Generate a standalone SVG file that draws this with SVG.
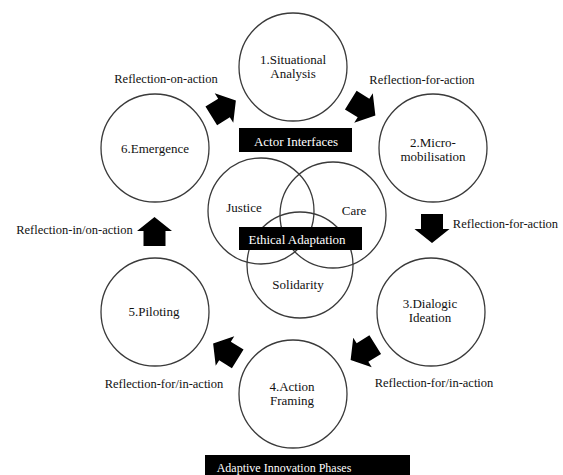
<svg xmlns="http://www.w3.org/2000/svg" xmlns:xlink="http://www.w3.org/1999/xlink" width="563" height="475" viewBox="0 0 563 475">
<style>
.c{fill:#fff;stroke:#3a3a3a;stroke-width:1.3}
.v{fill:none;stroke:#3a3a3a;stroke-width:1.3}
.t{font-family:"Liberation Serif","Times New Roman",serif;font-size:13px;fill:#111;text-anchor:middle}
.r{font-family:"Liberation Serif","Times New Roman",serif;font-size:12.5px;fill:#111;text-anchor:middle}
.w{font-family:"Liberation Serif","Times New Roman",serif;font-size:13px;fill:#fff;text-anchor:middle}
.box{fill:#000}
.a{fill:#000}
</style>
<defs>
<path id="arr" d="M-15,-11 L0,-11 L0,-17.5 L14,0 L0,17.5 L0,11 L-15,11 Z"/>
</defs>
<rect width="563" height="475" fill="#fff"/>
<g id="ethics">
<circle class="v" cx="261" cy="211" r="53"/>
<circle class="v" cx="333" cy="215" r="53"/>
<circle class="v" cx="300" cy="265" r="53"/>
<text class="t" x="244" y="212">Justice</text>
<text class="t" x="354" y="215">Care</text>
<text class="t" x="298" y="289">Solidarity</text>
<rect class="box" x="239" y="227" width="123" height="23"/>
<text class="w" x="297" y="244">Ethical Adaptation</text>
</g>
<g id="n1">
<circle class="c" cx="293" cy="67" r="54"/>
<text class="t" x="293" y="64">1.Situational</text>
<text class="t" x="293" y="78">Analysis</text>
</g>
<g id="actor-interfaces">
<rect class="box" x="239" y="128" width="113" height="24"/>
<text class="w" x="296" y="146">Actor Interfaces</text>
</g>
<g id="n2">
<circle class="c" cx="433" cy="148" r="54"/>
<text class="t" x="433" y="147">2.Micro-</text>
<text class="t" x="433" y="161">mobilisation</text>
</g>
<g id="n3">
<circle class="c" cx="431" cy="312" r="54"/>
<text class="t" x="430" y="308">3.Dialogic</text>
<text class="t" x="430" y="322">Ideation</text>
</g>
<g id="n4">
<circle class="c" cx="293" cy="394" r="54"/>
<text class="t" x="292" y="391">4.Action</text>
<text class="t" x="292" y="405">Framing</text>
</g>
<g id="n5">
<circle class="c" cx="155" cy="312" r="54"/>
<text class="t" x="154" y="316">5.Piloting</text>
</g>
<g id="n6">
<circle class="c" cx="155" cy="148" r="54"/>
<text class="t" x="155" y="153">6.Emergence</text>
</g>
<g id="adaptive-innovation-phases">
<rect class="box" x="205" y="455" width="205" height="20"/>
<text class="w" x="284" y="472" style="font-size:12px">Adaptive Innovation Phases</text>
</g>
<g id="connectors">
<use class="a" xlink:href="#arr" transform="translate(224,108) rotate(-32)"/>
<use class="a" xlink:href="#arr" transform="translate(363.5,108) rotate(32)"/>
<use class="a" xlink:href="#arr" transform="translate(432,229) rotate(90)"/>
<use class="a" xlink:href="#arr" transform="translate(362.5,352.5) rotate(148)"/>
<use class="a" xlink:href="#arr" transform="translate(225,351) rotate(212)"/>
<use class="a" xlink:href="#arr" transform="translate(154.5,231) rotate(-90)"/>
<text class="r" x="166" y="83">Reflection-on-action</text>
<text class="r" x="422" y="84">Reflection-for-action</text>
<text class="r" x="505.5" y="228">Reflection-for-action</text>
<text class="r" x="434" y="387">Reflection-for/in-action</text>
<text class="r" x="164" y="388">Reflection-for/in-action</text>
<text class="r" x="74.5" y="234">Reflection-in/on-action</text>
</g>
</svg>
